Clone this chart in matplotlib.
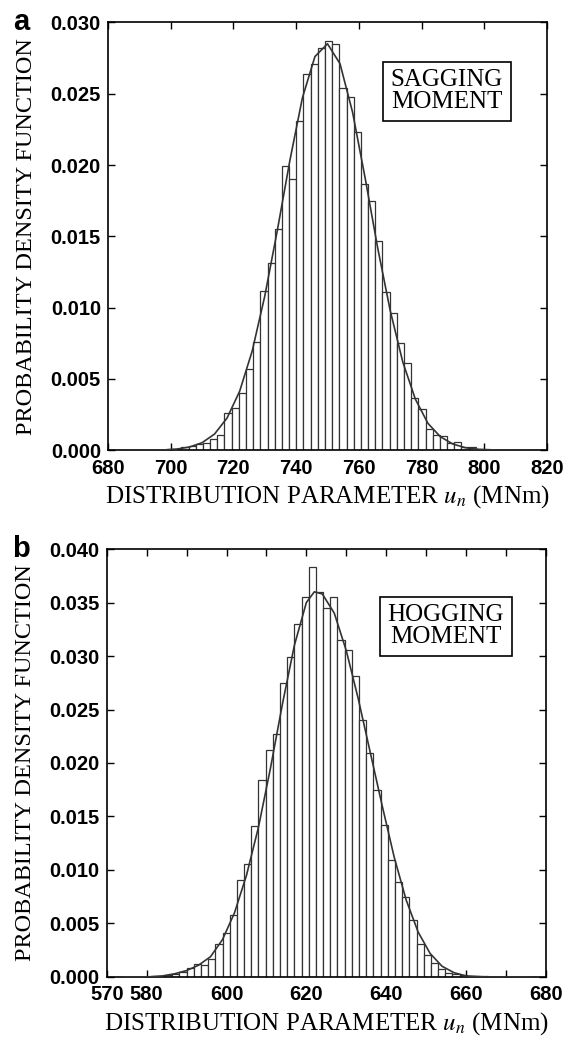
import numpy as np
import matplotlib
matplotlib.use("Agg")
import matplotlib.pyplot as plt

# ---- panel a : sagging moment ----
sag_start = 698.84   # left edge of first bin (MNm)
sag_width = 2.29     # bin width (MNm)
sag_pdf = [0.0001, 0.0001, 0.0002, 0.0003, 0.00047, 0.0005, 0.0008, 0.0011,
           0.0026, 0.0030, 0.0040, 0.0057, 0.0076, 0.0112, 0.0131, 0.0155,
           0.0199, 0.0190, 0.0231, 0.0264, 0.0271, 0.0282, 0.0287, 0.0285,
           0.0254, 0.0248, 0.0223, 0.0187, 0.0175, 0.0147, 0.0111, 0.0096,
           0.0075, 0.0061, 0.0037, 0.0029, 0.0015, 0.0011, 0.0010, 0.0005,
           0.0006, 0.0002, 0.0002, 0.0001, 0.0001]
sag_fit_x = [686, 690, 694, 698, 702, 706, 710, 714, 718, 722, 726, 730, 734,
             738, 742, 746, 750, 754, 758, 762, 766, 770, 774, 778, 782, 786,
             790, 794, 798, 802, 806, 810, 814]
sag_fit_y = [0.0, 0.0, 0.00001, 0.00003, 0.00009, 0.00023, 0.00053, 0.00114,
             0.00227, 0.00414, 0.00696, 0.0108, 0.0154, 0.0203, 0.0247, 0.0276,
             0.0285, 0.0271, 0.0237, 0.0191, 0.0142, 0.0098, 0.0062, 0.0036,
             0.0019, 0.00095, 0.00044, 0.00018, 0.00007, 0.00003, 0.00001,
             0.0, 0.0]

# ---- panel b : hogging moment ----
hog_start = 581.0
hog_width = 1.8
hog_pdf = [0.00005, 0.0001, 0.0002, 0.0003, 0.0005, 0.0008, 0.0012, 0.0011,
           0.0017, 0.0031, 0.0041, 0.0058, 0.0091, 0.0106, 0.0141, 0.0184,
           0.0212, 0.0227, 0.0275, 0.0299, 0.0330, 0.0355, 0.0383, 0.0360,
           0.0345, 0.0355, 0.0315, 0.0306, 0.0281, 0.0240, 0.0209, 0.0175,
           0.0142, 0.0109, 0.0089, 0.0075, 0.0053, 0.0031, 0.0021, 0.0013,
           0.0007, 0.0004, 0.0003, 0.0002, 0.0001, 0.0001, 0.00005]
hog_fit_x = [574, 580, 584, 587, 590, 593, 596, 599, 602, 605, 608, 611, 614,
             617, 620, 622, 624, 627, 630, 633, 636, 639, 642, 645, 648, 651,
             654, 657, 660, 665, 670, 676]
hog_fit_y = [0.0, 0.0, 0.0001, 0.0003, 0.0006, 0.0011, 0.0019, 0.0035, 0.0060,
             0.0095, 0.0140, 0.0195, 0.0255, 0.0310, 0.0350, 0.0360, 0.0358,
             0.0340, 0.0305, 0.0260, 0.0210, 0.0160, 0.0112, 0.0072, 0.0042,
             0.0022, 0.0010, 0.0004, 0.0001, 0.0, 0.0, 0.0]

sag_xticks = [680, 700, 720, 740, 760, 780, 800, 820]
sag_yticks = [0.000, 0.005, 0.010, 0.015, 0.020, 0.025, 0.030]
hog_xticks = [570, 580, 600, 620, 640, 660, 680]
hog_xminor = [590, 610, 630, 650, 670]
hog_yticks = [0.000, 0.005, 0.010, 0.015, 0.020, 0.025, 0.030, 0.035, 0.040]

serif = ['Liberation Serif', 'DejaVu Serif']
sans = ['Liberation Sans', 'DejaVu Sans']

plt.rcParams['mathtext.fontset'] = 'stix'

fig = plt.figure(figsize=(5.74, 10.40), dpi=100)
ax_a = fig.add_axes([0.188, 0.567, 0.765, 0.4115])
ax_b = fig.add_axes([0.186, 0.0606, 0.765, 0.4115])


def draw_panel(ax, start, width, pdf, fx, fy, xlim, ylim, xticks, yticks,
               tag, boxtext, box_y, xminor=None):
    left = start + width * np.arange(len(pdf))
    ax.bar(left, pdf, width=width, align='edge', facecolor='white',
           edgecolor='#333333', linewidth=0.9, zorder=2)
    ax.plot(fx, fy, color='#333333', linewidth=1.2, zorder=3)
    ax.set_xlim(*xlim)
    ax.set_ylim(*ylim)
    ax.set_xticks(xticks)
    ax.set_yticks(yticks)
    ax.set_yticklabels(['%.3f' % v for v in yticks])
    if xminor is not None:
        ax.set_xticks(xminor, minor=True)
    ax.tick_params(axis='both', which='both', direction='in', top=True,
                   right=True, length=5, width=1.0)
    ax.tick_params(axis='x', pad=6)
    ax.tick_params(axis='y', pad=5)
    for lab in ax.get_xticklabels() + ax.get_yticklabels():
        lab.set_fontfamily(sans)
        lab.set_fontweight('bold')
        lab.set_fontsize(14.5)
    for sp in ax.spines.values():
        sp.set_linewidth(1.2)
    ax.set_ylabel('PROBABILITY DENSITY FUNCTION', family=serif, fontsize=17.5,
                  labelpad=10)
    ax.set_xlabel(r'DISTRIBUTION PARAMETER $u_n$ (MNm)', family=serif,
                  fontsize=18, labelpad=4)
    ax.text(-0.215, 1.0, tag, transform=ax.transAxes, family=sans,
            fontweight='bold', fontsize=21, ha='left', va='center')
    ax.text(0.772, box_y, boxtext, transform=ax.transAxes, family=serif,
            fontsize=18, ha='center', va='center', linespacing=1.0,
            bbox=dict(boxstyle='square,pad=0.3', facecolor='white',
                      edgecolor='black', linewidth=1.2), zorder=5)


draw_panel(ax_a, sag_start, sag_width, sag_pdf, sag_fit_x, sag_fit_y,
           (680, 820), (0, 0.030), sag_xticks, sag_yticks, 'a',
           'SAGGING\nMOMENT', 0.839)
draw_panel(ax_b, hog_start, hog_width, hog_pdf, hog_fit_x, hog_fit_y,
           (570, 680), (0, 0.040), hog_xticks, hog_yticks, 'b',
           'HOGGING\nMOMENT', 0.82, xminor=hog_xminor)

fig.savefig('out.png', dpi=100)
